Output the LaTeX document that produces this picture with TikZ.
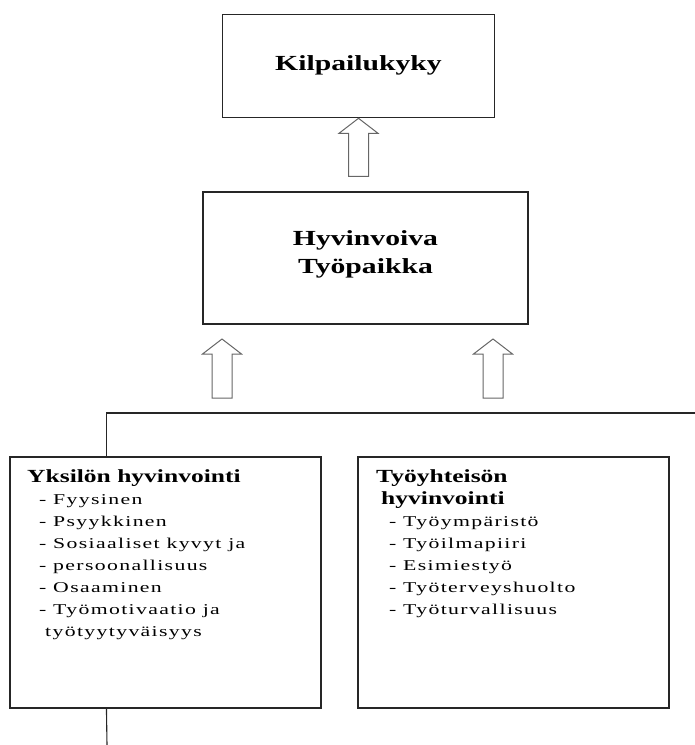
\documentclass[tikz,border=0pt]{standalone}
\usepackage{fontspec}
\setmainfont{Liberation Serif}
\newfontfamily\headfam[FakeStretch=1.38]{Liberation Serif}
\newfontfamily\bodyfam[FakeStretch=1.45,LetterSpace=9]{Liberation Serif}

% hollow upward block arrow: tip coordinate, shaft length below the head
\newcommand\blockarrow[2]{%
  \draw[hollow] (#1) -- ++(19.5,15) -- ++(-9.5,0) -- ++(0,#2) -- ++(-20,0)
    -- ++(0,-#2) -- ++(-9.5,0) -- cycle;}

\begin{document}
\begin{tikzpicture}[x=1pt,y=-1pt,
  frame/.style={draw=black!85, line width=1.1pt, inner sep=0pt},
  hollow/.style={draw=black!60, line width=1pt, line join=miter},
  link/.style={draw=black!85, line width=1.1pt},
  title/.style={inner sep=0pt, anchor=base,
    font=\headfam\bfseries\fontsize{21.5}{28}\selectfont},
  content/.style={inner sep=0pt, anchor=base west,
    font=\bodyfam\fontsize{15}{22}\selectfont}]

\useasboundingbox (0,0) rectangle (695,745);

% boxes
\node[frame, minimum width=271.5pt, minimum height=103pt] (k) at (358.5,66.25) {};
\node[frame, minimum width=325pt, minimum height=132pt] (h) at (365.5,258) {};
\node[frame, minimum width=311pt, minimum height=251pt] (y) at (165.5,582.5) {};
\node[frame, minimum width=311pt, minimum height=251pt] (w) at (513.5,582.5) {};

% titles
\node[title] (kt) at (358.5,70) {Kilpailukyky};
\node[title] (ht) at (365.5,245) {\begin{tabular}[t]{@{}c@{}}Hyvinvoiva\\Työpaikka\end{tabular}};

% box contents
\node[content] (yt) at (27,482) {\parbox[t]{290pt}{%
  {\headfam\bfseries\fontsize{18.5}{22}\selectfont Yksilön hyvinvointi}\\
  \hspace*{12pt}- Fyysinen\\
  \hspace*{12pt}- Psyykkinen\\
  \hspace*{12pt}- Sosiaaliset kyvyt ja\\
  \hspace*{12pt}- persoonallisuus\\
  \hspace*{12pt}- Osaaminen\\
  \hspace*{12pt}- Työmotivaatio ja\\
  \hspace*{18pt}työtyytyväisyys}};
\node[content] (wt) at (376,482) {\parbox[t]{280pt}{%
  {\headfam\bfseries\fontsize{18.5}{22}\selectfont Työyhteisön\\
  \hspace*{5pt}hyvinvointi}\\
  \hspace*{13pt}- Työympäristö\\
  \hspace*{13pt}- Työilmapiiri\\
  \hspace*{13pt}- Esimiestyö\\
  \hspace*{13pt}- Työterveyshuolto\\
  \hspace*{13pt}- Työturvallisuus}};

% block arrows
\coordinate (t1) at (222,339);
\coordinate (t2) at (493,339);
\blockarrow{k.south}{43}
\blockarrow{t1}{44}
\blockarrow{t2}{44}

% connector lines
\coordinate (edge) at (695,413);
\coordinate (yin) at ([xshift=97pt]y.north west);
\coordinate (yout) at ([xshift=97pt]y.south west);
\coordinate (tail) at (107,745);
\draw[link] (edge) -| (yin);
\draw[link] (yout) -- (tail);
\end{tikzpicture}
\end{document}
